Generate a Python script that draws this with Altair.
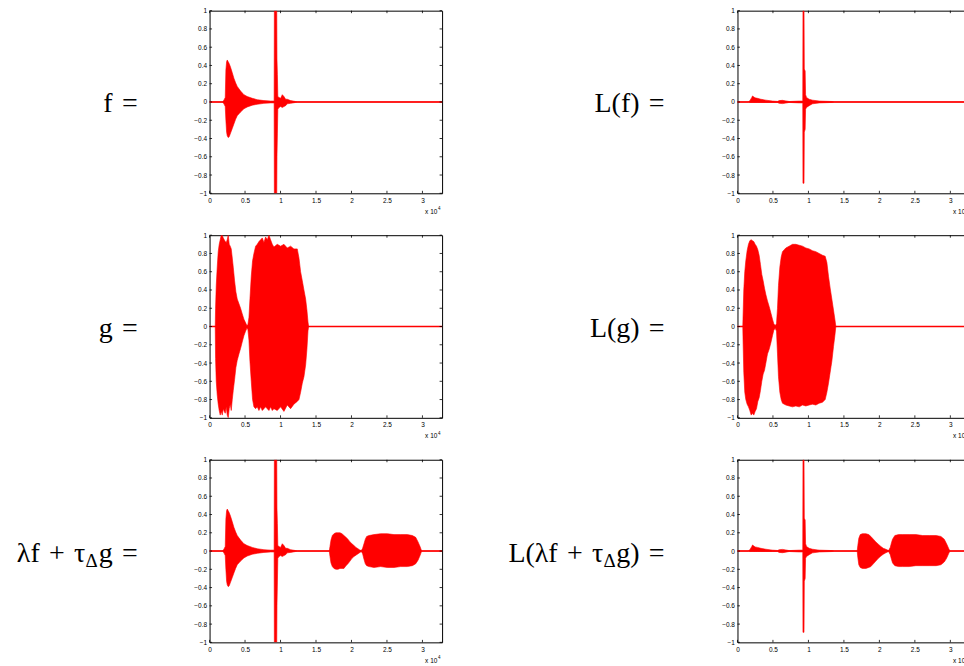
import altair as alt
import pandas as pd

XMAX = 32768
W, H = 233, 183
RED = "#ff0000"

# ---------------- data ----------------
XTICKS = [0, 5000, 10000, 15000, 20000, 25000, 30000]
YTICKS = [-1, -0.8, -0.6, -0.4, -0.2, 0, 0.2, 0.4, 0.6, 0.8, 1]

# f
f_x = [0, 1790, 2020, 2210, 2300, 2400, 2490, 2630, 2770, 2960, 3200, 3430, 3670, 3900, 4370, 4840,
       5310, 6020, 6720, 7660, 8600, 9100, 9130, 9470, 9500, 9560, 9620, 9780, 10010, 10250, 10480,
       10720, 10950, 11420, 12130, 12360, 32768]
f_hi = [0, 0, 0.02, 0.05, 0.35, 0.44, 0.46, 0.44, 0.42, 0.38, 0.32, 0.26, 0.21, 0.17, 0.12, 0.08,
        0.06, 0.04, 0.025, 0.015, 0.01, 0.01, 1.0, 1.0, 0.47, 0.3, 0.06, 0.05, 0.04, 0.08, 0.06,
        0.03, 0.03, 0.015, 0.005, 0, 0]
f_lo = [0, 0, -0.02, -0.05, -0.2, -0.33, -0.37, -0.39, -0.38, -0.34, -0.29, -0.24, -0.19, -0.15, -0.11, -0.075,
        -0.055, -0.035, -0.025, -0.015, -0.01, -0.01, -1.0, -1.0, -0.6, -0.35, -0.08, -0.06, -0.05, -0.06, -0.05,
        -0.04, -0.02, -0.015, -0.005, 0, 0]

# L(f)
lf_x = [0, 1550, 1790, 2020, 2115, 2160, 2300, 2490, 2820, 3290, 4000, 4935, 5640, 5875, 6350, 6815,
        7285, 8700, 9200, 9230, 9380, 9420, 9540, 9600, 9730, 10100, 10575, 11515, 13400, 13630, 32768]
lf_hi = [0, 0, 0.02, 0.05, 0.065, 0.065, 0.055, 0.045, 0.04, 0.03, 0.02, 0.01, 0.006, 0.015, 0.018, 0.012,
         0.005, 0.01, 0.01, 1.0, 1.0, 0.36, 0.34, 0.08, 0.05, 0.03, 0.02, 0.01, 0.005, 0, 0]
lf_lo = [0, 0, -0.005, -0.005, -0.005, -0.005, -0.005, -0.005, -0.005, -0.005, -0.005, -0.005, -0.005, -0.015,
         -0.018, -0.012, -0.005, -0.01, -0.01, -0.89, -0.89, -0.33, -0.3, -0.08, -0.06, -0.04, -0.02, -0.01,
         -0.005, 0, 0]

# g
g_x = [0, 800, 846, 940, 1080, 1220, 1360, 1500, 1645, 1786, 1930, 2070, 2210, 2350, 2490, 2630, 2770,
       2910, 3055, 3200, 3340, 3525, 3710, 3900, 4140, 4370, 4600, 4840, 5080, 5260, 5400, 5550, 5690,
       5875, 6060, 6250, 6490, 6720, 6960, 7190, 7430, 7660, 7900, 8130, 8370, 8600, 8840, 9070, 9540,
       10010, 10480, 10950, 11420, 11890, 12360, 12600, 12830, 13070, 13300, 13540, 13720, 13870, 13960, 32768]
g_hi = [0, 0, 0.2, 0.45, 0.65, 0.82, 0.9, 0.95, 1.0, 1.0, 0.97, 0.95, 0.93, 0.92, 0.95, 1.0, 0.9,
        0.88, 0.85, 0.75, 0.65, 0.5, 0.38, 0.3, 0.25, 0.2, 0.14, 0.08, 0.04, 0.01, 0.02, 0.1, 0.3,
        0.55, 0.72, 0.8, 0.88, 0.9, 0.93, 0.95, 0.97, 0.92, 0.98, 0.95, 1.0, 0.95, 0.9, 0.87, 0.9,
        0.88, 0.9, 0.86, 0.88, 0.85, 0.85, 0.75, 0.6, 0.5, 0.4, 0.3, 0.18, 0.05, 0, 0]
g_lo = [0, 0, -0.35, -0.6, -0.75, -0.85, -0.92, -0.97, -0.93, -0.97, -0.9, -0.93, -0.95, -0.88, -0.97, -1.0, -0.9,
        -0.85, -0.92, -0.8, -0.7, -0.58, -0.45, -0.37, -0.3, -0.24, -0.17, -0.1, -0.05, -0.02, -0.03, -0.15, -0.38,
        -0.6, -0.8, -0.88, -0.9, -0.88, -0.92, -0.88, -0.92, -0.9, -0.88, -0.9, -0.92, -0.88, -0.92, -0.9, -0.92,
        -0.88, -0.93, -0.86, -0.9, -0.85, -0.82, -0.8, -0.72, -0.62, -0.55, -0.42, -0.25, -0.05, 0, 0]

# L(g)
lg_x = [0, 750, 800, 890, 1030, 1175, 1360, 1550, 1740, 1930, 2115, 2300, 2490, 2680, 2870, 3055, 3240,
        3430, 3620, 3810, 4000, 4230, 4465, 4700, 4935, 5120, 5310, 5500, 5640, 5780, 5970, 6160, 6345,
        6815, 7285, 7755, 8225, 8700, 9165, 9635, 10105, 10575, 11045, 11515, 11985, 12360, 12600, 12830,
        13065, 13300, 13535, 13725, 13865, 32768]
lg_hi = [0, 0, 0.15, 0.4, 0.6, 0.72, 0.83, 0.9, 0.94, 0.95, 0.94, 0.93, 0.9, 0.88, 0.84, 0.78, 0.68,
         0.57, 0.5, 0.42, 0.35, 0.28, 0.22, 0.15, 0.08, 0.03, 0.01, 0.03, 0.2, 0.45, 0.65, 0.76, 0.82,
         0.86, 0.88, 0.9, 0.9, 0.89, 0.88, 0.86, 0.85, 0.83, 0.82, 0.8, 0.78, 0.77, 0.7, 0.55,
         0.42, 0.3, 0.18, 0.08, 0, 0]
lg_lo = [0, 0, -0.2, -0.5, -0.72, -0.8, -0.85, -0.88, -0.92, -0.97, -0.95, -0.97, -0.93, -0.9, -0.82, -0.78, -0.7,
         -0.6, -0.52, -0.48, -0.4, -0.3, -0.25, -0.18, -0.1, -0.04, -0.02, -0.05, -0.3, -0.55, -0.72, -0.8, -0.84,
         -0.86, -0.87, -0.88, -0.87, -0.88, -0.86, -0.87, -0.86, -0.85, -0.86, -0.84, -0.83, -0.8, -0.72, -0.62,
         -0.5, -0.38, -0.22, -0.1, 0, 0]

# shifted, scaled g inside lambda f + tau g
b_x = [16870, 16970, 17110, 17300, 17530, 17810, 18100, 18380, 18660, 18940, 19220, 19500, 19790, 20070,
       20350, 20630, 20920, 21200, 21385, 21570, 21760, 21950, 22140, 22470, 23170, 24110, 25050, 25990,
       26930, 27870, 28580, 29050, 29380, 29660, 29890]
b_hi = [0, 0.05, 0.12, 0.17, 0.19, 0.2, 0.2, 0.2, 0.19, 0.17, 0.15, 0.13, 0.1, 0.08,
        0.06, 0.04, 0.025, 0.01, 0.005, 0.03, 0.08, 0.13, 0.16, 0.17, 0.18, 0.19, 0.19, 0.18,
        0.18, 0.18, 0.17, 0.15, 0.1, 0.05, 0]
b_lo = [0, -0.06, -0.13, -0.17, -0.19, -0.2, -0.2, -0.19, -0.19, -0.19, -0.16, -0.14, -0.11, -0.08,
        -0.06, -0.045, -0.03, -0.015, -0.005, -0.03, -0.09, -0.14, -0.16, -0.17, -0.18, -0.17, -0.18, -0.18,
        -0.17, -0.17, -0.16, -0.14, -0.1, -0.05, 0]

# same part in L(lambda f + tau g)
lb_x = [16870, 16960, 17100, 17300, 17600, 18100, 18500, 18800, 19150, 19500, 19850, 20210, 20550, 20900,
        21290, 21530, 21700, 21855, 22180, 22700, 23265, 24200, 25145, 26100, 27025, 28000, 28670, 29140,
        29470, 29750, 29940]
lb_hi = [0, 0.06, 0.14, 0.18, 0.19, 0.19, 0.18, 0.16, 0.13, 0.1, 0.075, 0.05, 0.03, 0.02,
         0.005, 0.04, 0.09, 0.13, 0.17, 0.18, 0.18, 0.18, 0.18, 0.17, 0.17, 0.17, 0.16, 0.13,
         0.08, 0.03, 0]
lb_lo = [0, -0.07, -0.15, -0.18, -0.19, -0.19, -0.18, -0.17, -0.14, -0.11, -0.08, -0.055, -0.035, -0.02,
         -0.005, -0.04, -0.09, -0.13, -0.16, -0.17, -0.17, -0.17, -0.16, -0.16, -0.16, -0.16, -0.15, -0.12,
         -0.08, -0.03, 0]

# label texts: (text, right edge x, baseline shift, font size)
SP = "\u2004"
LABEL_F = [("f" + SP + "=", 137, 0, 28)]
LABEL_G = [("g" + SP + "=", 137, 0, 28)]
LABEL_SUM = [("λf" + SP + "+" + SP + "τ", 84.5, 0, 28), ("Δ", 97, 5, 19), ("g" + SP + "=", 137, 0, 28)]
LABEL_LF = [("L(f)" + SP + "=", 223, 0, 28)]
LABEL_LG = [("L(g)" + SP + "=", 223, 0, 28)]
LABEL_LSUM = [("L(λf" + SP + "+" + SP + "τ", 161.5, 0, 28), ("Δ", 174, 5, 19), ("g)" + SP + "=", 223, 0, 28)]
EXP_BASE = "x 10"
EXP_POW = "4"

SANS = "Liberation Sans"
SERIF = "Liberation Serif"


def panel(x, hi, lo):
    df = pd.DataFrame({"x": x, "hi": hi, "lo": lo})
    xs = alt.Scale(domain=[0, XMAX], nice=False, zero=False)
    ys = alt.Scale(domain=[-1, 1], nice=False, zero=False)
    xax = alt.Axis(values=XTICKS, labelExpr="datum.value / 10000", title=None, grid=False,
                   ticks=False, domain=False, labelFont=SANS, labelFontSize=6.5, labelColor="#000",
                   labelPadding=4, labelFlush=False, labelOverlap=False)
    yax = alt.Axis(values=YTICKS, format="~g", title=None, grid=False, ticks=False, domain=False,
                   labelFont=SANS, labelFontSize=6.5, labelColor="#000", labelPadding=3,
                   labelFlush=False, labelOverlap=False)
    area = alt.Chart(df).mark_area(color=RED, stroke=RED, strokeWidth=0.6, clip=True,
                                   interpolate="linear").encode(
        x=alt.X("x:Q", scale=xs, axis=xax),
        y=alt.Y("hi:Q", scale=ys, axis=yax),
        y2="lo:Q",
    )
    zero = alt.Chart(pd.DataFrame({"hi": [0]})).mark_rule(color=RED, strokeWidth=1.6).encode(
        y=alt.Y("hi:Q", scale=ys, axis=yax)
    )
    xt = alt.Chart(pd.DataFrame({"x": XTICKS}))
    yt = alt.Chart(pd.DataFrame({"hi": YTICKS}))
    tk = dict(color="black", strokeWidth=0.8)
    xb = xt.mark_rule(**tk).encode(x=alt.X("x:Q", scale=xs, axis=xax), y=alt.value(H), y2=alt.value(H - 2.5))
    xtp = xt.mark_rule(**tk).encode(x=alt.X("x:Q", scale=xs, axis=xax), y=alt.value(0), y2=alt.value(2.5))
    yl = yt.mark_rule(**tk).encode(y=alt.Y("hi:Q", scale=ys, axis=yax), x=alt.value(0), x2=alt.value(2.5))
    yr = yt.mark_rule(**tk).encode(y=alt.Y("hi:Q", scale=ys, axis=yax), x=alt.value(W), x2=alt.value(W - 2.5))
    e1 = alt.Chart(pd.DataFrame({"s": [EXP_BASE]})).mark_text(
        font=SANS, fontSize=6.5, align="left", baseline="middle", color="#000").encode(
        text="s:N", x=alt.value(216), y=alt.value(H + 18.3))
    e2 = alt.Chart(pd.DataFrame({"s": [EXP_POW]})).mark_text(
        font=SANS, fontSize=4.5, align="left", baseline="middle", color="#000").encode(
        text="s:N", x=alt.value(228.8), y=alt.value(H + 16))
    return alt.layer(area, zero, xb, xtp, yl, yr, e1, e2).properties(width=W, height=H)


def label(segments, width):
    layers = []
    for text, xr, dy, size in segments:
        layers.append(
            alt.Chart(pd.DataFrame({"s": [text]})).mark_text(
                font=SERIF, fontSize=size, align="right", baseline="alphabetic", color="#000"
            ).encode(text="s:N", x=alt.value(xr), y=alt.value(102 + dy))
        )
    return alt.layer(*layers).properties(width=width, height=H,
                                          view=alt.ViewBackground(stroke="transparent"))


LW, RW = 209, 296
cells = [
    label(LABEL_F, LW), panel(f_x, f_hi, f_lo), label(LABEL_LF, RW), panel(lf_x, lf_hi, lf_lo),
    label(LABEL_G, LW), panel(g_x, g_hi, g_lo), label(LABEL_LG, RW), panel(lg_x, lg_hi, lg_lo),
    label(LABEL_SUM, LW),
    panel(f_x[:-1] + b_x + [XMAX], f_hi[:-1] + b_hi + [0], f_lo[:-1] + b_lo + [0]),
    label(LABEL_LSUM, RW),
    panel(lf_x[:-1] + lb_x + [XMAX], lf_hi[:-1] + lb_hi + [0], lf_lo[:-1] + lb_lo + [0]),
]

chart = alt.concat(
    *cells, columns=4, spacing={"row": 42, "column": 0}, bounds="flush", align="each"
).properties(
    padding={"left": 0, "top": 6, "right": -8, "bottom": 0}
).configure_view(stroke="black", strokeWidth=1)

chart.save("out.html", embed_options={"renderer": "svg", "actions": False})
